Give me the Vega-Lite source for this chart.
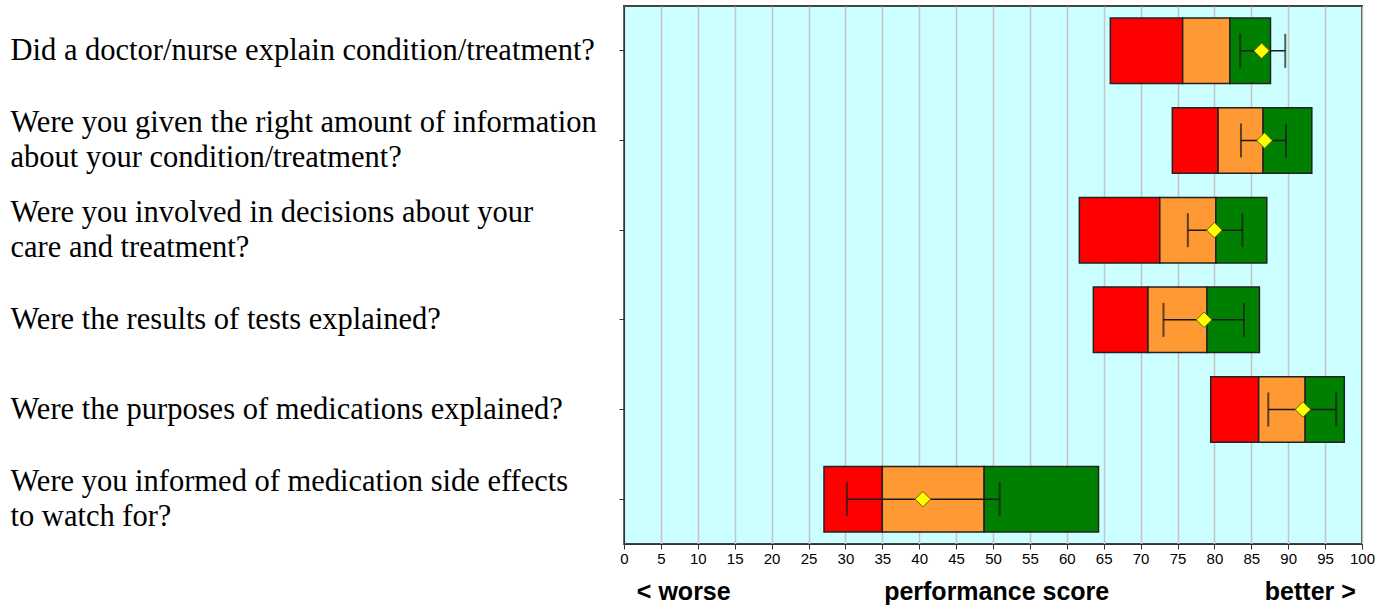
{
  "$schema": "https://vega.github.io/schema/vega-lite/v6.json",
  "width": 738,
  "height": 538,
  "autosize": "none",
  "padding": {"left": 624, "top": 6, "right": 29, "bottom": 62},
  "background": "white",
  "config": {
    "view": {"fill": "#ccffff", "stroke": "#444444", "strokeWidth": 2},
    "axis": {"labelColor": "black", "domainColor": "#333333", "tickColor": "#333333"},
    "axisX": {
      "title": null,
      "values": [0,5,10,15,20,25,30,35,40,45,50,55,60,65,70,75,80,85,90,95,100],
      "grid": true, "gridColor": "#c4c4c4", "gridWidth": 1.5, "gridOpacity": 1,
      "tickSize": 5, "labelPadding": 2,
      "labelFont": "Liberation Sans", "labelFontSize": 15,
      "labelFlush": false, "labelOverlap": false
    }
  },
  "datasets": {
    "rows": [
      {"q": "Did a doctor/nurse explain condition/treatment?", "r0": 65.9, "r1": 75.7, "o1": 82.1, "g1": 87.6, "mean": 86.4, "lo": 83.5, "hi": 89.6},
      {"q": "Were you given the right amount of information|about your condition/treatment?", "r0": 74.3, "r1": 80.5, "o1": 86.6, "g1": 93.2, "mean": 86.8, "lo": 83.6, "hi": 89.7},
      {"q": "Were you involved in decisions about your|care and treatment?", "r0": 61.7, "r1": 72.6, "o1": 80.2, "g1": 87.1, "mean": 80.0, "lo": 76.4, "hi": 83.8},
      {"q": "Were the results of tests explained?", "r0": 63.6, "r1": 71.0, "o1": 79.0, "g1": 86.1, "mean": 78.6, "lo": 73.1, "hi": 84.0},
      {"q": "Were the purposes of medications explained?", "r0": 79.5, "r1": 86.0, "o1": 92.3, "g1": 97.6, "mean": 92.0, "lo": 87.3, "hi": 96.5},
      {"q": "Were you informed of medication side effects|to watch for?", "r0": 27.1, "r1": 35.0, "o1": 48.8, "g1": 64.3, "mean": 40.5, "lo": 30.2, "hi": 50.9}
    ],
    "notes": [
      {"pos": 8.1, "text": "< worse"},
      {"pos": 50.5, "text": "performance score"},
      {"pos": 93.0, "text": "better >"}
    ]
  },
  "data": {"name": "rows"},
  "encoding": {
    "y": {
      "field": "q", "type": "nominal", "sort": null,
      "scale": {"paddingInner": 0.27, "paddingOuter": 0.135},
      "axis": {
        "title": null,
        "labelExpr": "split(datum.value, '|')",
        "labelAlign": "left",
        "labelBaseline": "middle",
        "labelPadding": 609,
        "labelOffset": {"condition": {"test": "indexof(datum.value, '|') >= 0", "value": -17.5}, "value": 0},
        "tickSize": 5,
        "labelFont": "Liberation Serif",
        "labelFontSize": 30.5,
        "labelLineHeight": 35,
        "labelLimit": 0,
        "domain": true,
        "grid": false
      }
    }
  },
  "layer": [
    {
      "mark": {"type": "bar", "color": "#ff0000", "stroke": "#222222", "strokeWidth": 1.5},
      "encoding": {
        "x": {
          "field": "r0", "type": "quantitative",
          "scale": {"domain": [0, 100], "nice": false, "zero": true}
        },
        "x2": {"field": "r1"}
      }
    },
    {
      "mark": {"type": "bar", "color": "#ff9933", "stroke": "#222222", "strokeWidth": 1.5},
      "encoding": {
        "x": {"field": "r1", "type": "quantitative"},
        "x2": {"field": "o1"}
      }
    },
    {
      "mark": {"type": "bar", "color": "#008000", "stroke": "#222222", "strokeWidth": 1.5},
      "encoding": {
        "x": {"field": "o1", "type": "quantitative"},
        "x2": {"field": "g1"}
      }
    },
    {
      "mark": {"type": "rule", "color": "#1a1a1a", "strokeWidth": 1.5},
      "encoding": {
        "x": {"field": "lo", "type": "quantitative"},
        "x2": {"field": "hi"}
      }
    },
    {
      "mark": {"type": "tick", "color": "#1a1a1a", "thickness": 2, "size": 34, "orient": "vertical"},
      "encoding": {
        "x": {"field": "lo", "type": "quantitative"}
      }
    },
    {
      "mark": {"type": "tick", "color": "#1a1a1a", "thickness": 2, "size": 34, "orient": "vertical"},
      "encoding": {
        "x": {"field": "hi", "type": "quantitative"}
      }
    },
    {
      "mark": {"type": "point", "shape": "diamond", "filled": true, "fill": "#ffff00", "stroke": "#666600", "strokeWidth": 1, "size": 240, "opacity": 1},
      "encoding": {
        "x": {"field": "mean", "type": "quantitative"}
      }
    },
    {
      "data": {"name": "notes"},
      "mark": {"type": "text", "font": "Liberation Sans", "fontWeight": "bold", "fontSize": 25, "color": "black", "y": "height", "dy": 48, "baseline": "middle", "align": "center"},
      "encoding": {
        "x": {"field": "pos", "type": "quantitative"},
        "text": {"field": "text"},
        "y": null
      }
    }
  ]
}
